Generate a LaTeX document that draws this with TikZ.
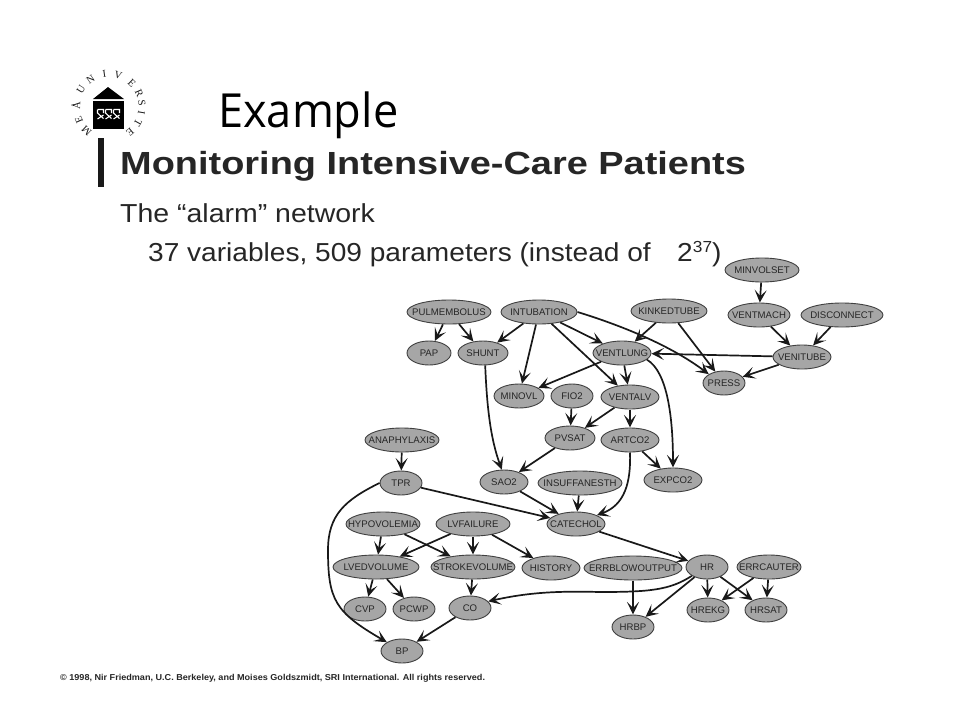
\documentclass[tikz,border=0pt]{standalone}
\usepackage{graphicx}
\usepackage{fontspec}
\setmainfont{Liberation Sans}
\newfontfamily\titlefont{Open Sans}
\newfontfamily\logofont{Liberation Serif}
\usetikzlibrary{shapes.geometric,arrows.meta}
\newcommand{\lb}[1]{\makebox[0pt]{#1}}
\tikzset{
  st/.style={ellipse,draw=black!75,line width=0.9pt,fill=black!35,minimum height=24pt,inner sep=0pt,outer sep=0.5pt,text=black!85,font=\fontsize{9.6}{11}\selectfont},
  ed/.style={draw=black!90,line width=1.7pt,-{Stealth[length=12.5pt,width=12pt,inset=6pt]}},
  head/.style={anchor=base west,inner sep=0pt,text=black!85},
  letter/.style={inner sep=0pt,text=black!90,font=\logofont\fontsize{10.5}{10.5}\selectfont}
}
\begin{document}
\begin{tikzpicture}[x=1pt,y=-1pt]
\useasboundingbox (0,0) rectangle (960,720);
\fill[white] (0,0) rectangle (960,720);
% logo
\fill[black] (108,87) -- (124,99) -- (93,99) -- cycle;
\fill[black] (93,101) rectangle (124,129);
\foreach \wx in {100.5,108.5,116.5}{
  \draw[white,line width=1.1pt] (\wx-3,109.5) -- (\wx+3,109.5) -- (\wx+3,113) (\wx-3,109.5) -- (\wx-3,113) -- (\wx+3,118.5) (\wx+3,115) -- (\wx-3,119);
}
\foreach \ch/\a/\n in {M/-133/a,E/-156/b,Å/-182/c,U/-212/d,N/-236/e,I/-262/f,V/-286/g,E/-314/h,R/-336/i,S/-353/j,I/-370/k,T/-389/l,E/-410/m}{
  \node[letter,rotate={\a-90}] (lg\n) at ({109+33*cos(\a)},{107-33*sin(\a)}) {\ch};
}
% headings
\fill[black!90] (98,138) rectangle (104,187);
\node[head,font=\titlefont\fontsize{47}{50}\selectfont,text=black] (title) at (218,127) {\scalebox{0.96}[1]{Example}};
\node[head,font=\bfseries\fontsize{32}{34}\selectfont] (h1) at (120,174) {\scalebox{1.185}[1]{Monitoring Intensive-Care Patients}};
\node[head,font=\fontsize{26}{28}\selectfont] (h2) at (120,222) {\scalebox{1.095}[1]{The “alarm” network}};
\node[head,font=\fontsize{26}{28}\selectfont] (h3) at (148,261) {\scalebox{1.08}[1]{37 variables, 509 parameters (instead of\,\,\,\, 2\raisebox{9pt}{\fontsize{16}{16}\selectfont 37})}};
\node[head,font=\bfseries\fontsize{8.6}{10}\selectfont] (foot) at (60,680) {\scalebox{1.055}[1]{© 1998, Nir Friedman, U.C. Berkeley, and Moises Goldszmidt, SRI International. All rights reserved.}};
% nodes
\node[st,minimum width=74pt] (MINVOLSET) at (762,270) {\lb{MINVOLSET}};
\node[st,minimum width=62pt] (VENTMACH) at (759,315) {\lb{VENTMACH}};
\node[st,minimum width=82pt] (DISCONNECT) at (842,315) {\lb{DISCONNECT}};
\node[st,minimum width=84pt] (PULMEMBOLUS) at (449,312) {\lb{PULMEMBOLUS}};
\node[st,minimum width=76pt] (INTUBATION) at (539,312) {\lb{INTUBATION}};
\node[st,minimum width=76pt] (KINKEDTUBE) at (669,311) {\lb{KINKEDTUBE}};
\node[st,minimum width=44pt] (PAP) at (429,353) {\lb{PAP}};
\node[st,minimum width=50pt] (SHUNT) at (483,353) {\lb{SHUNT}};
\node[st,minimum width=58pt] (VENTLUNG) at (622,353) {\lb{VENTLUNG}};
\node[st,minimum width=58pt] (VENITUBE) at (802,357) {\lb{VENITUBE}};
\node[st,minimum width=42pt] (PRESS) at (724,383) {\lb{PRESS}};
\node[st,minimum width=50pt] (MINOVL) at (519,396) {\lb{MINOVL}};
\node[st,minimum width=42pt] (FIO2) at (572,396) {\lb{FIO2}};
\node[st,minimum width=58pt] (VENTALV) at (630,397) {\lb{VENTALV}};
\node[st,minimum width=50pt] (PVSAT) at (570,438) {\lb{PVSAT}};
\node[st,minimum width=58pt] (ARTCO2) at (630,440) {\lb{ARTCO2}};
\node[st,minimum width=74pt] (ANAPHYLAXIS) at (402,440) {\lb{ANAPHYLAXIS}};
\node[st,minimum width=42pt] (TPR) at (401,483) {\lb{TPR}};
\node[st,minimum width=48pt] (SAO2) at (504,482) {\lb{SAO2}};
\node[st,minimum width=84pt] (INSUFFANESTH) at (580,483) {\lb{INSUFFANESTH}};
\node[st,minimum width=58pt] (EXPCO2) at (673,480) {\lb{EXPCO2}};
\node[st,minimum width=74pt] (HYPOVOLEMIA) at (383,524) {\lb{HYPOVOLEMIA}};
\node[st,minimum width=74pt] (LVFAILURE) at (473,524) {\lb{LVFAILURE}};
\node[st,minimum width=58pt] (CATECHOL) at (576,524) {\lb{CATECHOL}};
\node[st,minimum width=86pt] (LVEDVOLUME) at (376,567) {\lb{LVEDVOLUME}};
\node[st,minimum width=84pt] (STROKEVOLUME) at (473,567) {\lb{STROKEVOLUME}};
\node[st,minimum width=58pt] (HISTORY) at (551,568) {\lb{HISTORY}};
\node[st,minimum width=98pt] (ERRBLOWOUTPUT) at (633,568) {\lb{ERRBLOWOUTPUT}};
\node[st,minimum width=42pt] (HR) at (707,567) {\lb{HR}};
\node[st,minimum width=64pt] (ERRCAUTER) at (769,567) {\lb{ERRCAUTER}};
\node[st,minimum width=42pt] (CVP) at (365,609) {\lb{CVP}};
\node[st,minimum width=42pt] (PCWP) at (414,609) {\lb{PCWP}};
\node[st,minimum width=42pt] (CO) at (470,608) {\lb{CO}};
\node[st,minimum width=42pt] (HRBP) at (633,627) {\lb{HRBP}};
\node[st,minimum width=42pt] (HREKG) at (708,610) {\lb{HREKG}};
\node[st,minimum width=42pt] (HRSAT) at (766,610) {\lb{HRSAT}};
\node[st,minimum width=42pt] (BP) at (402,651) {\lb{BP}};
% straight edges
\foreach \s/\t in {MINVOLSET/VENTMACH,VENTMACH/VENITUBE,DISCONNECT/VENITUBE,PULMEMBOLUS/PAP,PULMEMBOLUS/SHUNT,INTUBATION/SHUNT,INTUBATION/MINOVL,INTUBATION/VENTLUNG,INTUBATION/VENTALV,KINKEDTUBE/VENTLUNG,KINKEDTUBE/PRESS,VENITUBE/VENTLUNG,VENITUBE/PRESS,VENTLUNG/MINOVL,VENTLUNG/VENTALV,FIO2/PVSAT,VENTALV/PVSAT,VENTALV/ARTCO2,PVSAT/SAO2,ARTCO2/EXPCO2,ANAPHYLAXIS/TPR,TPR/CATECHOL,SAO2/CATECHOL,INSUFFANESTH/CATECHOL,CATECHOL/HR,HYPOVOLEMIA/LVEDVOLUME,HYPOVOLEMIA/STROKEVOLUME,LVFAILURE/LVEDVOLUME,LVFAILURE/STROKEVOLUME,LVFAILURE/HISTORY,LVEDVOLUME/CVP,LVEDVOLUME/PCWP,STROKEVOLUME/CO,ERRBLOWOUTPUT/HRBP,HR/HRBP,HR/HREKG,HR/HRSAT,ERRCAUTER/HREKG,ERRCAUTER/HRSAT,CO/BP}{
  \draw[ed] (\s) -- (\t);
}
% curved edges
\draw[ed] (SHUNT.-80) .. controls (487,410) and (491,440) .. (SAO2.100);
\draw[ed] (INTUBATION.east) .. controls (620,325) and (670,345) .. (PRESS.150);
\draw[ed] (VENTLUNG.-15) .. controls (668,372) and (673,420) .. (EXPCO2.north);
\draw[ed] (ARTCO2.south) .. controls (631,482) and (625,505) .. (CATECHOL.north east);
\draw[ed] (TPR.west) .. controls (345,500) and (328,515) .. (328,550) .. controls (328,600) and (335,612) .. (BP.north west);
\draw[ed] (HR.south west) .. controls (670,590) and (650,592) .. (600,592) .. controls (560,591) and (530,592) .. (CO.20);
\end{tikzpicture}
\end{document}
